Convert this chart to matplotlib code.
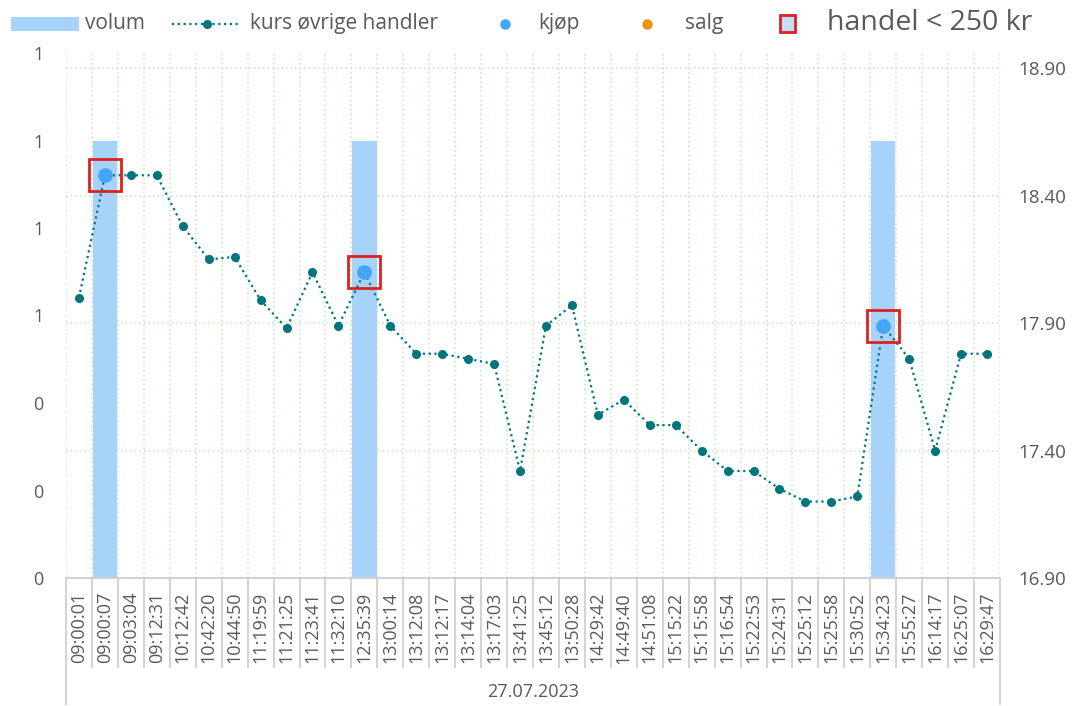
import numpy as np
import matplotlib
matplotlib.use("Agg")
import matplotlib.pyplot as plt
from matplotlib.patches import Rectangle
from matplotlib.lines import Line2D
from matplotlib.ticker import StrMethodFormatter

plt.rcParams['font.family'] = ['Open Sans', 'DejaVu Sans']

# data
tider = ["09:00:01", "09:00:07", "09:03:04", "09:12:31", "10:12:42", "10:42:20",
         "10:44:50", "11:19:59", "11:21:25", "11:23:41", "11:32:10", "12:35:39",
         "13:00:14", "13:12:08", "13:12:17", "13:14:04", "13:17:03", "13:41:25",
         "13:45:12", "13:50:28", "14:29:42", "14:49:40", "14:51:08", "15:15:22",
         "15:15:58", "15:16:54", "15:22:53", "15:24:31", "15:25:12", "15:25:58",
         "15:30:52", "15:34:23", "15:55:27", "16:14:17", "16:25:07", "16:29:47"]
kurs = [18.00, 18.48, 18.48, 18.48, 18.28, 18.15, 18.16, 17.99, 17.88, 18.10,
        17.89, 18.10, 17.89, 17.78, 17.78, 17.76, 17.74, 17.32, 17.89, 17.97,
        17.54, 17.60, 17.50, 17.50, 17.40, 17.32, 17.32, 17.25, 17.20, 17.20,
        17.22, 17.89, 17.76, 17.40, 17.78, 17.78]
volum = [0, 1, 0, 0, 0, 0, 0, 0, 0, 0, 0, 1, 0, 0, 0, 0, 0, 0,
         0, 0, 0, 0, 0, 0, 0, 0, 0, 0, 0, 0, 0, 1, 0, 0, 0, 0]
kjop_tid = ["09:00:07", "12:35:39", "15:34:23"]
kjop_kurs = [18.48, 18.10, 17.89]
salg_tid = []
salg_kurs = []
liten_tid = ["09:00:07", "12:35:39", "15:34:23"]  # handel < 250 kr
liten_kurs = [18.48, 18.10, 17.89]
dato = "27.07.2023"

W, H = 1076, 706
TXT = "#595959"
GRID = "#c3e2c3"
BAR = "#a7d3fb"
TEAL = "#00767c"
BLUE = "#42a5f5"
ORANGE = "#e8950e"
RED = "#dd2020"
BOX = "#cccccc"

x = np.arange(len(tider))
pos = {t: i for i, t in enumerate(tider)}

fig = plt.figure(figsize=(W / 100, H / 100), dpi=100)
rect = [66 / W, 1 - 578 / H, 934 / W, 525 / H]

# grid layer (right scale)
axg = fig.add_axes(rect, zorder=0)
axg.set_xlim(-0.5, len(x) - 0.5)
axg.set_ylim(16.9, 18.96)
axg.set_yticks(np.arange(16.9, 18.95, 0.5))
axg.set_xticks(np.arange(-0.5, len(x) + 0.5, 1))
axg.grid(True, color=GRID, ls=(0, (1, 2)), lw=1.1)
axg.tick_params(length=0, labelleft=False, labelbottom=False)
for s in axg.spines.values():
    s.set_visible(False)

# bars (left scale)
ax = fig.add_axes(rect, zorder=1)
ax.patch.set_visible(False)
ax.bar(x, volum, width=0.94, color=BAR)
ax.set_xlim(-0.5, len(x) - 0.5)
ax.set_ylim(0, 1.2)
ax.set_yticks(np.arange(0, 1.21, 0.2))
ax.yaxis.set_major_formatter(StrMethodFormatter("{x:.0f}"))
ax.set_xticks(x)
ax.set_xticklabels(tider, rotation=90, fontsize=13, color=TXT)
ax.tick_params(axis='x', length=0, pad=10)
ax.tick_params(axis='y', length=0, pad=16, labelsize=13, labelcolor=TXT)
for k, s in ax.spines.items():
    s.set_visible(k == 'bottom')
ax.spines['bottom'].set_color(BOX)
ax.spines['bottom'].set_linewidth(1.2)

# category box below axis
trans = ax.get_xaxis_transform()
ax.vlines(np.arange(0.5, len(x) - 1, 1), -0.171, 0, transform=trans,
          clip_on=False, color=BOX, lw=1.2)
ax.vlines([-0.5, len(x) - 0.5], -0.242, 0, transform=trans,
          clip_on=False, color=BOX, lw=1.2)
ax.text(0.5, -0.217, dato, transform=ax.transAxes, ha='center', va='center',
        fontsize=13, color=TXT)

# price line and trades (right scale)
ax2 = ax.twinx()
ax2.set_zorder(2)
ax2.plot(x, kurs, color=TEAL, ls=(0, (1, 1.6)), lw=1.6, marker='o', ms=5.5)
ax2.plot([pos[t] for t in kjop_tid], kjop_kurs, 'o', color=BLUE, ms=9.5)
ax2.plot([pos[t] for t in salg_tid], salg_kurs, 'o', color=ORANGE, ms=9.5)
ax2.plot([pos[t] for t in liten_tid], liten_kurs, 's', mfc='none', mec=RED,
         ms=23, mew=2)
ax2.set_ylim(16.9, 18.96)
ax2.set_yticks(np.arange(16.9, 18.95, 0.5))
ax2.yaxis.set_major_formatter(StrMethodFormatter("{x:.2f}"))
ax2.tick_params(axis='y', length=0, pad=13, labelsize=13.5, labelcolor=TXT)
for s in ax2.spines.values():
    s.set_visible(False)

# legend drawn in figure pixels
def fx(p):
    return p / W

def fy(p):
    return 1 - p / H

tf = fig.transFigure
fig.add_artist(Rectangle((fx(11), fy(31)), 68 / W, 14 / H, transform=tf,
                         color=BAR, lw=0))
fig.text(fx(85), fy(29), "volum", fontsize=15, color=TXT, va='baseline')
fig.add_artist(Line2D([fx(172), fx(241)], [fy(24), fy(24)], transform=tf,
                      color=TEAL, ls=(0, (1, 1.6)), lw=1.6))
fig.add_artist(Line2D([fx(207)], [fy(24)], transform=tf, marker='o', ms=5.5,
                      color=TEAL, ls='none'))
fig.text(fx(250), fy(29), "kurs øvrige handler", fontsize=15, color=TXT,
         va='baseline')
fig.add_artist(Line2D([fx(505)], [fy(24)], transform=tf, marker='o', ms=6.5,
                      color=BLUE, ls='none'))
fig.text(fx(538), fy(29), "kjøp", fontsize=15, color=TXT, va='baseline')
fig.add_artist(Line2D([fx(647)], [fy(24)], transform=tf, marker='o', ms=6.5,
                      color=ORANGE, ls='none'))
fig.text(fx(685), fy(29), "salg", fontsize=15, color=TXT, va='baseline')
fig.add_artist(Rectangle((fx(780), fy(32)), 15 / W, 17 / H, transform=tf,
                         facecolor="#bfdffb", edgecolor=RED, lw=2))
fig.text(fx(827), fy(30), "handel < 250 kr", fontsize=20.5, color=TXT,
         va='baseline')

fig.savefig("out.png", dpi=100)
